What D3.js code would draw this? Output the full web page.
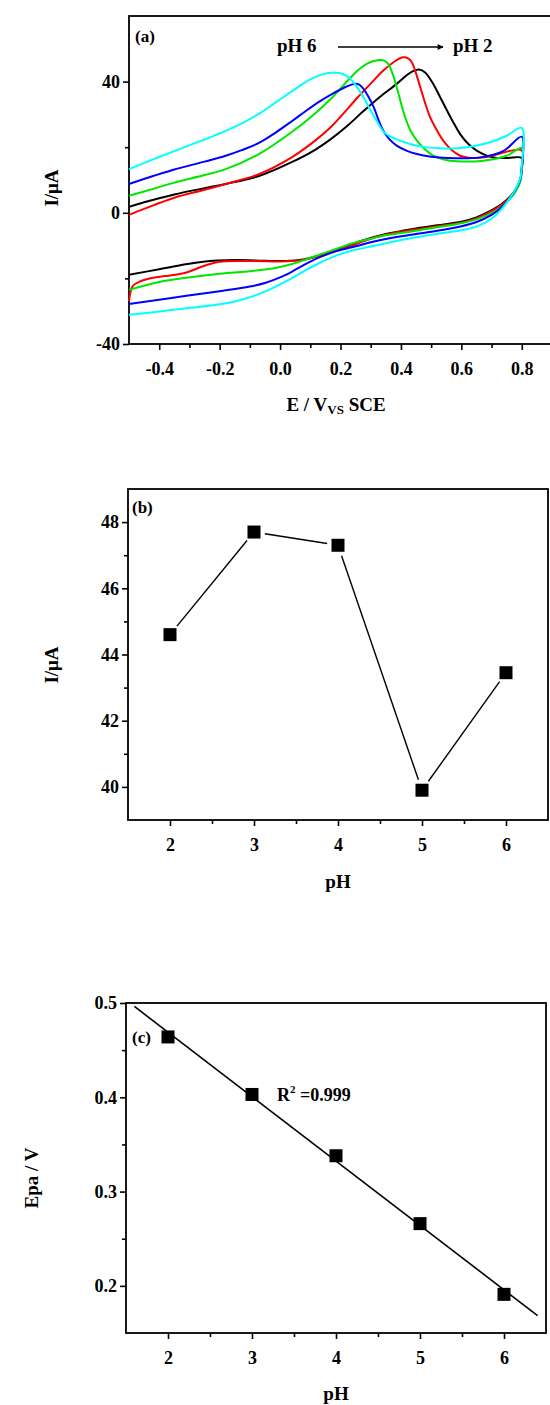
<!DOCTYPE html>
<html>
<head>
<meta charset="utf-8">
<script src="https://cdn.jsdelivr.net/npm/d3@7"></script>
<style>
  body { margin: 0; background: #fff; }
  svg text { font-family: "Liberation Serif", "Times New Roman", serif; font-weight: bold; fill: #000; }
</style>
</head>
<body>
<svg id="chart" width="550" height="1405"></svg>
<script>
// ---- panel (a): cyclic voltammograms, [E (V), I (uA)] ----
const cvLabels = ['pH 2', 'pH 3', 'pH 4', 'pH 5', 'pH 6'];
const cvColors = ['#000000', '#ff0000', '#00e600', '#0000ff', '#00ffff'];

const cvPH2Fwd = [[-0.5,1.8],[-0.45,3.2],[-0.35,5.6],[-0.25,7.5],[-0.18,8.8],[-0.07,11.2],[0.04,15.5],[0.116,19.2],[0.17,22.6],[0.22,26.3],[0.276,31],[0.33,35.3],[0.386,39.3],[0.42,42],[0.44,43.2],[0.46,43.7],[0.48,42.8],[0.507,39.3],[0.53,35.2],[0.553,31.1],[0.575,27.3],[0.596,24],[0.625,20.8],[0.652,18.9],[0.68,17.6],[0.706,16.9],[0.75,16.7],[0.8,16.7]];
const cvPH2Rev = [[0.8,13.5],[0.795,10],[0.78,7.2],[0.76,4.8],[0.73,2.4],[0.7,0.8],[0.65,-1.4],[0.6,-2.7],[0.52,-3.8],[0.44,-4.9],[0.354,-6.4],[0.3,-7.7],[0.25,-9.2],[0.19,-11.2],[0.13,-13],[0.077,-14.2],[0.02,-14.7],[-0.05,-14.6],[-0.15,-14.4],[-0.255,-14.9],[-0.33,-16],[-0.4,-17.2],[-0.5,-18.9]];

const cvPH3Fwd = [[-0.5,-0.6],[-0.45,1.2],[-0.35,4.6],[-0.25,7],[-0.18,8.8],[-0.07,11.8],[0.04,17],[0.116,22],[0.17,26.3],[0.21,30.3],[0.255,35],[0.3,39.4],[0.34,43.2],[0.38,46.2],[0.407,47.4],[0.425,47],[0.436,45.9],[0.45,42.5],[0.464,38.3],[0.48,33.5],[0.497,29.1],[0.52,25],[0.54,22],[0.566,19.3],[0.596,17.4],[0.625,16.8],[0.652,16.7],[0.7,17.3],[0.74,18.4],[0.8,19]];
const cvPH3Rev = [[0.8,13.5],[0.795,10],[0.78,7],[0.76,4.6],[0.73,2.2],[0.7,0.5],[0.65,-1.7],[0.6,-3],[0.52,-4.1],[0.44,-5.2],[0.354,-6.6],[0.3,-7.9],[0.24,-9.9],[0.19,-11.4],[0.13,-13.2],[0.077,-14.4],[0.02,-14.8],[-0.1,-14.7],[-0.2,-14.9],[-0.255,-16.3],[-0.31,-18.2],[-0.38,-19.3],[-0.42,-19.8],[-0.46,-20.8],[-0.487,-22.3],[-0.5,-26.9]];

const cvPH4Fwd = [[-0.5,5.2],[-0.42,7.3],[-0.35,9.2],[-0.25,11.5],[-0.18,13.3],[-0.07,17.9],[0.04,24.7],[0.116,30.3],[0.17,34.9],[0.232,41.1],[0.26,43.6],[0.288,45.5],[0.31,46.3],[0.331,46.6],[0.345,46.4],[0.358,45.4],[0.372,42.5],[0.386,38.3],[0.4,33.5],[0.414,29.1],[0.432,25],[0.453,22],[0.48,19.3],[0.507,17.4],[0.545,16.2],[0.585,15.7],[0.673,15.9],[0.75,17.4],[0.8,19.7]];
const cvPH4Rev = [[0.8,13.5],[0.795,9.5],[0.78,6.6],[0.76,4.2],[0.73,1.6],[0.7,-0.1],[0.65,-2],[0.6,-3.2],[0.52,-4.4],[0.44,-5.6],[0.354,-6.8],[0.3,-7.9],[0.24,-9.3],[0.19,-10.9],[0.13,-12.8],[0.077,-14.5],[0.04,-15.6],[0,-16.5],[-0.05,-17.3],[-0.1,-17.8],[-0.2,-18.6],[-0.31,-19.8],[-0.4,-21.1],[-0.5,-23.5]];

const cvPH5Fwd = [[-0.5,8.8],[-0.42,11.2],[-0.35,13.2],[-0.25,15.6],[-0.18,17.4],[-0.127,19.1],[-0.07,21.3],[-0.017,24.3],[0.04,28],[0.083,30.9],[0.13,33.9],[0.17,36.1],[0.22,38.5],[0.245,39.3],[0.262,39.1],[0.276,37.8],[0.293,35.3],[0.31,32.2],[0.325,28.5],[0.34,25.3],[0.36,22.6],[0.386,20.5],[0.42,18.9],[0.453,17.9],[0.5,17.1],[0.553,16.7],[0.662,16.9],[0.74,18.9],[0.8,23.2]];
const cvPH5Rev = [[0.8,14],[0.795,10.2],[0.78,7.2],[0.76,4.4],[0.73,1.4],[0.7,-0.6],[0.65,-2.8],[0.6,-4.1],[0.52,-5.5],[0.44,-6.6],[0.354,-7.9],[0.3,-9],[0.25,-10.2],[0.19,-11.6],[0.13,-13.6],[0.077,-16],[0.04,-17.9],[0,-19.7],[-0.05,-21.4],[-0.1,-22.5],[-0.2,-23.9],[-0.31,-25.3],[-0.4,-26.5],[-0.5,-27.8]];

const cvPH6Fwd = [[-0.5,13.3],[-0.42,16.3],[-0.348,18.9],[-0.26,22],[-0.18,25],[-0.12,27.6],[-0.073,30],[-0.02,33.3],[0.04,37.1],[0.075,39.3],[0.106,41],[0.14,42.2],[0.17,42.7],[0.195,42.6],[0.215,42],[0.23,41],[0.243,39.8],[0.26,37.6],[0.276,35.2],[0.293,32.3],[0.31,29.6],[0.325,27.2],[0.34,25],[0.36,23.5],[0.386,22.4],[0.43,21],[0.474,20.1],[0.53,19.7],[0.585,19.7],[0.64,20.3],[0.695,21.5],[0.75,23.5],[0.8,25.9]];
const cvPH6Rev = [[0.8,14.5],[0.795,10.5],[0.78,7.3],[0.76,4.4],[0.73,0.8],[0.7,-1.8],[0.65,-4.2],[0.6,-5.3],[0.52,-6.4],[0.44,-7.6],[0.354,-9.2],[0.3,-10.3],[0.24,-11.5],[0.19,-12.9],[0.13,-15.3],[0.077,-17.9],[0.03,-20.4],[-0.03,-23.2],[-0.08,-25.1],[-0.14,-26.8],[-0.2,-27.9],[-0.31,-29.1],[-0.4,-30.1],[-0.5,-31.1]];

const aXTicks = [-0.4, -0.2, 0.0, 0.2, 0.4, 0.6, 0.8];
const aXTickLabels = ['-0.4', '-0.2', '0.0', '0.2', '0.4', '0.6', '0.8'];
const aXMinor = [-0.3, -0.1, 0.1, 0.3, 0.5, 0.7];
const aYTicks = [-40, 0, 40];
const aYTickLabels = ['-40', '0', '40'];
const aYMinor = [-20, 20];

// ---- panel (b): peak current vs pH ----
const phValues = [2, 3, 4, 5, 6];
const peakCurrent = [44.6, 47.7, 47.3, 39.9, 43.45];
const bYTicks = [40, 42, 44, 46, 48];
const bYMinor = [41, 43, 45, 47];

// ---- panel (c): peak potential vs pH ----
const peakPotential = [0.464, 0.403, 0.338, 0.266, 0.191];
const cYTicks = [0.2, 0.3, 0.4, 0.5];
const cYTickLabels = ['0.2', '0.3', '0.4', '0.5'];
const cYMinor = [0.25, 0.35, 0.45];

const phTicks = [2, 3, 4, 5, 6];
const phMinor = [2.5, 3.5, 4.5, 5.5];

const svg = d3.select('#chart');
svg.append('rect').attr('width', 550).attr('height', 1405).attr('fill', '#fff');

const TICK_FONT = 18;

function drawAxes(x, y, o) {
  const g = svg.append('g');
  const [xa, xb] = x.range();
  const [ya, yb] = y.range(); // ya bottom, yb top

  const bottom = g.append('g').attr('transform', `translate(0,${ya})`)
    .call(d3.axisBottom(x).tickValues(o.xTicks).tickSize(6).tickPadding(12)
      .tickFormat((d, i) => o.xLabels[i]));
  const bottomMinor = g.append('g').attr('transform', `translate(0,${ya})`)
    .call(d3.axisBottom(x).tickValues(o.xMinor).tickSize(4).tickFormat(''));

  const left = g.append('g').attr('transform', `translate(${xa},0)`)
    .call(d3.axisLeft(y).tickValues(o.yTicks).tickSize(6).tickPadding(3)
      .tickFormat((d, i) => o.yLabels[i]));
  const leftMinor = g.append('g').attr('transform', `translate(${xa},0)`)
    .call(d3.axisLeft(y).tickValues(o.yMinor).tickSize(4).tickFormat(''));

  [bottom, bottomMinor, left, leftMinor].forEach(a => {
    a.select('.domain').remove();
    a.selectAll('line').attr('stroke', '#000').attr('stroke-width', 1.6);
    a.selectAll('text').attr('font-size', TICK_FONT)
      .style('font-family', '"Liberation Serif","Times New Roman",serif')
      .style('font-weight', 'bold');
  });

  g.append('rect')
    .attr('x', xa).attr('y', yb)
    .attr('width', xb - xa).attr('height', ya - yb)
    .attr('fill', 'none').attr('stroke', '#000').attr('stroke-width', 1.8);
  return g;
}

function squares(x, y, xs, ys) {
  svg.append('g').selectAll('rect')
    .data(xs.map((d, i) => [d, ys[i]]))
    .join('rect')
    .attr('x', d => x(d[0]) - 6.5)
    .attr('y', d => y(d[1]) - 6.5)
    .attr('width', 13).attr('height', 13)
    .attr('fill', '#000');
}

// ================= (a) =================
const xA = d3.scaleLinear().domain([-0.5, 0.9]).range([129, 552]);
const yA = d3.scaleLinear().domain([-40, 60]).range([344, 16]);

drawAxes(xA, yA, {
  xTicks: aXTicks, xLabels: aXTickLabels, xMinor: aXMinor,
  yTicks: aYTicks, yLabels: aYTickLabels, yMinor: aYMinor
});

const cvFwd = [cvPH2Fwd, cvPH3Fwd, cvPH4Fwd, cvPH5Fwd, cvPH6Fwd];
const cvRev = [cvPH2Rev, cvPH3Rev, cvPH4Rev, cvPH5Rev, cvPH6Rev];

const cvLine = d3.line()
  .x(d => xA(d[0]))
  .y(d => yA(d[1]))
  .curve(d3.curveCatmullRom.alpha(0.5));

svg.append('g').selectAll('path')
  .data(cvLabels.map((l, i) => cvFwd[i].concat(cvRev[i])))
  .join('path')
  .attr('d', cvLine)
  .attr('fill', 'none')
  .attr('stroke', (d, i) => cvColors[i])
  .attr('stroke-width', 2)
  .attr('stroke-linejoin', 'round');

svg.append('text').attr('x', 135).attr('y', 42).attr('font-size', 17).text('(a)');
svg.append('text').attr('x', 277).attr('y', 52).attr('font-size', 19).text('pH 6');
svg.append('text').attr('x', 453).attr('y', 52).attr('font-size', 19).text('pH 2');

svg.append('defs').append('marker')
  .attr('id', 'arrow').attr('viewBox', '0 0 10 10')
  .attr('refX', 9).attr('refY', 5)
  .attr('markerWidth', 8).attr('markerHeight', 6)
  .attr('markerUnits', 'userSpaceOnUse')
  .attr('orient', 'auto')
  .append('path').attr('d', 'M0,0 L10,5 L0,10 z').attr('fill', '#000');

svg.append('line')
  .attr('x1', 338).attr('y1', 47).attr('x2', 443).attr('y2', 47)
  .attr('stroke', '#000').attr('stroke-width', 1.4)
  .attr('marker-end', 'url(#arrow)');

const aTitle = svg.append('text')
  .attr('x', 336).attr('y', 411).attr('text-anchor', 'middle').attr('font-size', 19);
aTitle.append('tspan').text('E / V');
aTitle.append('tspan').attr('font-size', 13).attr('dy', 3).text('VS');
aTitle.append('tspan').attr('dy', -3).text(' SCE');

svg.append('text')
  .attr('transform', 'translate(58,188) rotate(-90)')
  .attr('text-anchor', 'middle').attr('font-size', 19)
  .text('I/\u03bcA');

// ================= (b) =================
const xB = d3.scaleLinear().domain([1.5, 6.5]).range([128, 548]);
const yB = d3.scaleLinear().domain([39, 49]).range([820, 489]);

drawAxes(xB, yB, {
  xTicks: phTicks, xLabels: phTicks.map(String), xMinor: phMinor,
  yTicks: bYTicks, yLabels: bYTicks.map(String), yMinor: bYMinor
});

// connecting segments leave a small gap round each marker
const gap = 11;
const bSegs = d3.pairs(phValues.map((p, i) => [xB(p), yB(peakCurrent[i])]));
svg.append('g').selectAll('line')
  .data(bSegs)
  .join('line')
  .each(function([a, b]) {
    const dx = b[0] - a[0], dy = b[1] - a[1];
    const len = Math.hypot(dx, dy);
    const ux = dx / len, uy = dy / len;
    d3.select(this)
      .attr('x1', a[0] + ux * gap).attr('y1', a[1] + uy * gap)
      .attr('x2', b[0] - ux * gap).attr('y2', b[1] - uy * gap);
  })
  .attr('stroke', '#000').attr('stroke-width', 1.4);

squares(xB, yB, phValues, peakCurrent);

svg.append('text').attr('x', 132).attr('y', 513).attr('font-size', 17).text('(b)');
svg.append('text').attr('x', 338).attr('y', 888).attr('text-anchor', 'middle').attr('font-size', 19).text('pH');
svg.append('text')
  .attr('transform', 'translate(58,665) rotate(-90)')
  .attr('text-anchor', 'middle').attr('font-size', 19)
  .text('I/\u03bcA');

// ================= (c) =================
const xC = d3.scaleLinear().domain([1.5, 6.5]).range([126, 546]);
const yC = d3.scaleLinear().domain([0.15, 0.5]).range([1333, 1003]);

drawAxes(xC, yC, {
  xTicks: phTicks, xLabels: phTicks.map(String), xMinor: phMinor,
  yTicks: cYTicks, yLabels: cYTickLabels, yMinor: cYMinor
});

// least-squares fit of Epa against pH
const mx = d3.mean(phValues), my = d3.mean(peakPotential);
const slope = d3.sum(phValues, (p, i) => (p - mx) * (peakPotential[i] - my)) /
  d3.sum(phValues, p => (p - mx) * (p - mx));
const intercept = my - slope * mx;
const fitRange = [1.6, 6.4];

svg.append('line')
  .attr('x1', xC(fitRange[0])).attr('y1', yC(intercept + slope * fitRange[0]))
  .attr('x2', xC(fitRange[1])).attr('y2', yC(intercept + slope * fitRange[1]))
  .attr('stroke', '#000').attr('stroke-width', 1.6);

squares(xC, yC, phValues, peakPotential);

svg.append('text').attr('x', 132).attr('y', 1043).attr('font-size', 17).text('(c)');
const r2 = svg.append('text').attr('x', 277).attr('y', 1101).attr('font-size', 18);
r2.append('tspan').text('R');
r2.append('tspan').attr('font-size', 11).attr('dy', -8).text('2');
r2.append('tspan').attr('dy', 8).text(' =0.999');

svg.append('text').attr('x', 336).attr('y', 1400).attr('text-anchor', 'middle').attr('font-size', 19).text('pH');
svg.append('text')
  .attr('transform', 'translate(38,1178) rotate(-90)')
  .attr('text-anchor', 'middle').attr('font-size', 19)
  .text('Epa / V');
</script>
</body>
</html>
